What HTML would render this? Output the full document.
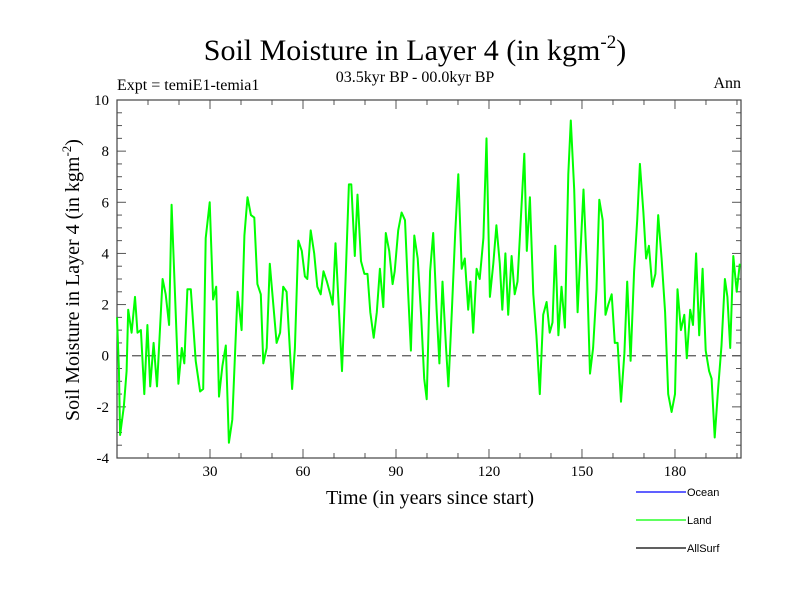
<!DOCTYPE html>
<html><head><meta charset="utf-8"><style>body{margin:0;background:#fff}svg{display:block}</style></head>
<body>
<svg id="chart" width="800" height="600" xmlns="http://www.w3.org/2000/svg" font-family="Liberation Serif, serif">
<rect width="800" height="600" fill="#fff"/>
<text x="415" y="60" font-size="30" text-anchor="middle">Soil Moisture in Layer 4 (in kgm<tspan dy="-12" font-size="19">-2</tspan><tspan dy="12">)</tspan></text>
<text x="415" y="82" font-size="16" text-anchor="middle">03.5kyr BP - 00.0kyr BP</text>
<text x="117" y="90" font-size="16">Expt = temiE1-temia1</text>
<text x="741" y="88" font-size="16" text-anchor="end">Ann</text>
<text transform="translate(79,280) rotate(-90)" font-size="20" text-anchor="middle">Soil Moisture in Layer 4 (in kgm<tspan dy="-8" font-size="13">-2</tspan><tspan dy="8">)</tspan></text>
<text x="430" y="504" font-size="20" text-anchor="middle">Time (in years since start)</text>
<g id="axes"></g>
<g id="series"></g>
<g font-family="Liberation Sans, sans-serif" font-size="11">
<line x1="636" y1="492" x2="686" y2="492" stroke="#0000ff" stroke-width="1.2"/><text x="687" y="496">Ocean</text>
<line x1="636" y1="520" x2="686" y2="520" stroke="#00ff00" stroke-width="1.2"/><text x="687" y="524">Land</text>
<line x1="636" y1="548" x2="686" y2="548" stroke="#000" stroke-width="1.2"/><text x="687" y="552">AllSurf</text>
</g>
</svg>
<script>
const years=[0,0.6,1,2.2,3.1,3.6,4.7,5.8,6.6,7.7,8.8,9.8,10.7,11.8,12.9,14.7,15.7,16.8,17.6,19.8,20.9,21.7,22.7,23.8,25.4,26.8,27.8,28.6,29.9,31,32,32.9,34,35.1,36.1,37.2,38.9,40.2,41.1,42.1,43.2,44.3,45.3,46.4,47.2,48.3,49.3,51.5,52.6,53.6,54.7,56.5,57.4,58.5,59.6,60.6,61.4,62.5,63.6,64.6,65.7,66.6,67.7,68.8,69.6,70.5,71.6,72.6,73.7,74.8,75.6,76.7,77.6,78.7,79.8,80.8,81.7,82.8,83.8,84.8,85.9,86.7,87.8,88.9,89.6,90.7,91.8,92.9,93.9,94.8,95.9,97,98.1,99.1,99.9,101,102,103.1,104,105,106.1,106.9,108,109.1,110.1,111.2,112.2,113.3,114,114.9,116,117,118.2,119.2,120.3,121.4,122.4,123.5,124.3,125.3,126.2,127.3,128.3,129.2,130.3,131.4,132.2,133.2,134.3,135.3,136.4,137.5,138.6,139.6,140.5,141.4,142.4,143.4,144.5,145.6,146.4,147.5,148.6,149.5,150.5,151.6,152.6,153.6,154.7,155.6,156.7,157.6,158.5,159.6,160.6,161.5,162.6,163.7,164.6,165.7,166.8,167.8,168.7,169.8,170.7,171.6,172.7,173.7,174.6,175.7,176.8,177.8,178.9,180,180.8,181.9,183,183.8,184.9,185.8,186.8,187.8,188.9,189.9,191,191.8,192.8,193.9,195,196.1,196.9,197.8,198.8,199.9,200.9];
const landValues=[1.5,-0.5,-3.1,-2.0,-0.6,1.8,0.9,2.3,0.9,1.0,-1.5,1.2,-1.2,0.5,-1.2,3.0,2.4,1.2,5.9,-1.1,0.3,-0.3,2.6,2.6,-0.2,-1.4,-1.3,4.6,6.0,2.2,2.7,-1.6,-0.4,0.4,-3.4,-2.5,2.5,1.0,4.7,6.2,5.5,5.4,2.8,2.4,-0.3,0.3,3.6,0.5,0.9,2.7,2.5,-1.3,0.3,4.5,4.1,3.1,3.0,4.9,4.0,2.7,2.4,3.3,2.9,2.4,2.0,4.4,1.8,-0.6,2.9,6.7,6.7,3.9,6.3,3.7,3.2,3.2,1.7,0.7,1.7,3.4,1.9,4.8,4.1,2.8,3.3,4.9,5.6,5.3,2.5,0.2,4.7,3.8,1.6,-0.9,-1.7,3.3,4.8,1.8,-0.3,2.9,0.4,-1.2,1.7,4.8,7.1,3.4,3.8,1.8,2.9,0.9,3.4,3.0,4.6,8.5,2.3,3.6,5.1,3.6,1.8,4.0,1.6,3.9,2.4,2.9,5.4,7.9,4.1,6.2,2.4,0.8,-1.5,1.6,2.1,0.9,1.3,4.3,0.8,2.7,1.1,7.1,9.2,6.5,1.7,4.0,6.5,3.4,-0.7,0.3,2.6,6.1,5.3,1.6,2.0,2.4,0.5,0.5,-1.8,0.1,2.9,-0.2,3.3,5.3,7.5,5.6,3.8,4.3,2.7,3.2,5.5,3.8,1.7,-1.5,-2.2,-1.5,2.6,1.0,1.6,-0.1,1.8,1.2,4.0,0.8,3.4,0.2,-0.6,-0.9,-3.2,-1.3,0.4,3.0,2.3,0.3,3.9,2.5,3.6];
const yTicks=[-4,-2,0,2,4,6,8,10];
const xTicks=[30,60,90,120,150,180];
const X0=117,X1=741,Y0=458,Y1=100,xMin=0,xMax=201.3,yMin=-4,yMax=10;
const sx=v=>X0+(v-xMin)/(xMax-xMin)*(X1-X0);
const sy=v=>Y0-(v-yMin)/(yMax-yMin)*(Y0-Y1);
const NS='http://www.w3.org/2000/svg';
const ax=document.getElementById('axes');
function mk(tag,attrs,parent){const e=document.createElementNS(NS,tag);for(const k in attrs)e.setAttribute(k,attrs[k]);parent.appendChild(e);return e;}
let g=mk('g',{stroke:'#555','stroke-width':1},ax);
for(let v=-4;v<=10.001;v+=0.5){const maj=Math.abs(v%2)<1e-6;const L=maj?9:5;
 mk('line',{x1:X0,x2:X0+L,y1:sy(v),y2:sy(v)},g);mk('line',{x1:X1,x2:X1-L,y1:sy(v),y2:sy(v)},g);}
for(let v=10;v<=200;v+=10){const maj=v%30===0;const L=maj?9:5;
 mk('line',{x1:sx(v),x2:sx(v),y1:Y0,y2:Y0-L},g);mk('line',{x1:sx(v),x2:sx(v),y1:Y1,y2:Y1+L},g);}
const frame=mk('rect',{x:X0,y:Y1,width:X1-X0,height:Y0-Y1,fill:'none',stroke:'#444','stroke-width':1.2},ax);


yTicks.forEach(v=>{const t=mk('text',{x:X0-8,y:sy(v)+5,'font-size':15,'text-anchor':'end'},ax);t.textContent=v;
 
 });
xTicks.forEach(v=>{const t=mk('text',{x:sx(v),y:Y0+18,'font-size':15,'text-anchor':'middle'},ax);t.textContent=v;
 
 });
const zl=mk('line',{x1:X0,x2:X1,y1:sy(0),y2:sy(0),stroke:'#555','stroke-width':1.2,'stroke-dasharray':'9,6'},ax);


const pts=years.map((y,i)=>sx(y).toFixed(1)+','+sy(landValues[i]).toFixed(1)).join(' ');
const pl=mk('polyline',{points:pts,fill:'none',stroke:'#00ff00','stroke-width':2,'stroke-linejoin':'round'},document.getElementById('series'));


</script>
</body></html>
